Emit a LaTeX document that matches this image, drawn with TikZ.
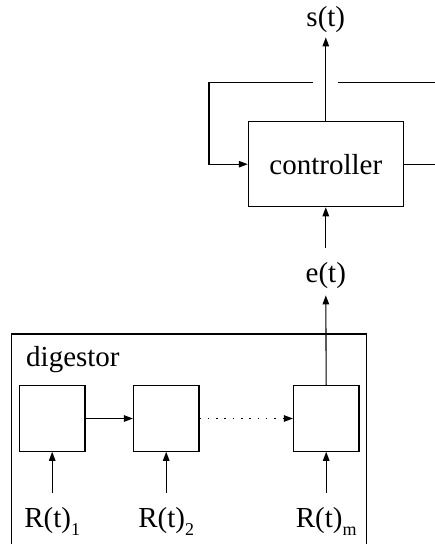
\documentclass[tikz,border=0pt]{standalone}
\usepackage{fontspec}
\setmainfont{Liberation Serif}
\usetikzlibrary{arrows.meta}
\begin{document}
\begin{tikzpicture}[x=1pt,y=-1pt,
  ln/.style={line width=1.1pt},
  arr/.style={ln,-{Triangle[length=9pt,width=6.5pt]}},
  blk/.style={draw,ln,rectangle,inner sep=0pt},
  cell/.style={blk,minimum width=65.5pt,minimum height=65.5pt},
  lbl/.style={inner sep=0pt,font=\fontsize{29}{34}\selectfont},
  sub/.style={}]
\useasboundingbox (0,0) rectangle (435,544);
\clip (0,0) rectangle (435,544);
% controller
\node[blk,minimum width=155pt,minimum height=85pt,lbl] (ctrl) at (325.8,164.2) {controller};
\node[lbl,anchor=base] (s) at (325.8,26) {s(t)};
\node[lbl,anchor=base] (e) at (325.8,282) {e(t)};
\draw[arr] (ctrl.north) -- ([yshift=-5pt]s.south);
\draw[arr] ([yshift=14pt]e.north) -- (ctrl.south);
% feedback loop
\coordinate (fr1) at (435,164.2);
\coordinate (fr2) at (435,82.7);
\coordinate (gapR) at (338,82.7);
\coordinate (gapL) at (313,82.7);
\coordinate (fl) at (209,82.7);
\draw[ln] (ctrl.east) -- (fr1);
\draw[ln] (fr2) -- (gapR);
\draw[arr] (gapL) -- (fl) |- (ctrl.west);
% digestor
\coordinate (d1) at (11.7,560);
\coordinate (d2) at (11.7,334);
\coordinate (d3) at (366.7,334);
\coordinate (d4) at (366.7,560);
\draw[ln] (d1) -- (d2) -- (d3) -- (d4);
\node[lbl,anchor=base west] (dg) at (26,366.5) {digestor};
\node[cell] (b1) at (52.2,418.5) {};
\node[cell] (b2) at (166.2,418.5) {};
\node[cell] (b3) at (326.2,418.5) {};
\draw[arr] (b1.east) -- (b2.west);
\draw[arr,dash pattern=on 1.5pt off 6.8pt] (b2.east) -- (b3.west);
\draw[arr] (b3.north) -- ([yshift=-7pt]e.south);
% inputs
\node[lbl,anchor=base] (r1) at (52.2,527) {R(t)\raisebox{-8pt}{\fontsize{18}{20}\selectfont 1}};
\node[lbl,anchor=base] (r2) at (166.2,527) {R(t)\raisebox{-8pt}{\fontsize{18}{20}\selectfont 2}};
\node[lbl,anchor=base] (r3) at (326.2,527) {R(t)\raisebox{-8pt}{\fontsize{18}{20}\selectfont m}};
\coordinate (i1) at (52.2,493);
\coordinate (i2) at (166.2,493);
\coordinate (i3) at (326.2,493);
\draw[arr] (i1) -- (b1.south);
\draw[arr] (i2) -- (b2.south);
\draw[arr] (i3) -- (b3.south);
\end{tikzpicture}
\end{document}
